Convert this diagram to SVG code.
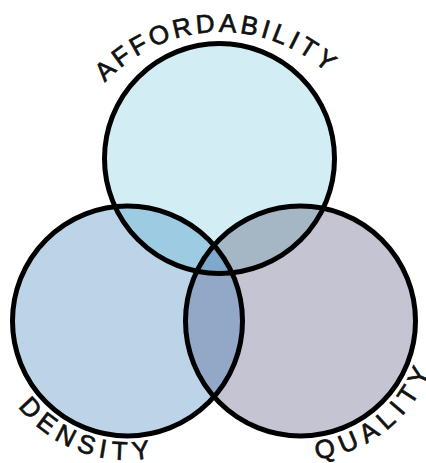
<svg xmlns="http://www.w3.org/2000/svg" xmlns:xlink="http://www.w3.org/1999/xlink" width="426" height="463" viewBox="0 0 426 463">
  <defs>
    <clipPath id="clip-top"><circle cx="219.5" cy="158.5" r="115"/></clipPath>
    <clipPath id="clip-left"><circle cx="127.5" cy="321" r="115"/></clipPath>
    <!-- label baselines -->
    <path id="arc-top" d="M 81.5 115.8 A 158 158 0 0 1 355 106.3" fill="none"/>
    <path id="arc-left" d="M 7.2 390.5 A 139 139 0 0 0 175 451.6" fill="none"/>
    <path id="arc-right" d="M 298.1 460 A 139 139 0 0 0 437 347.5" fill="none"/>
    <style>
      .label { font-family: "Liberation Sans", Arial, sans-serif; font-size: 26px; fill: #111; stroke: #111; stroke-width: 0.7; }
      .outline { fill: none; stroke: #000; stroke-width: 5; }
    </style>
  </defs>
  <rect width="426" height="463" fill="#fff"/>

  <g id="affordability">
    <circle cx="219.5" cy="158.5" r="115" fill="#d3edf4"/>
    <text class="label" letter-spacing="3.5"><textPath xlink:href="#arc-top" startOffset="50%" text-anchor="middle">AFFORDABILITY</textPath></text>
  </g>
  <g id="density">
    <circle cx="127.5" cy="321" r="115" fill="#bdd4e8"/>
    <text class="label" letter-spacing="6"><textPath xlink:href="#arc-left" startOffset="50%" text-anchor="middle">DENSITY</textPath></text>
  </g>
  <g id="quality">
    <circle cx="300.5" cy="321" r="115" fill="#c5c4d2"/>
    <text class="label" letter-spacing="6.5"><textPath xlink:href="#arc-right" startOffset="50%" text-anchor="middle">QUALITY</textPath></text>
  </g>

  <!-- shared regions -->
  <g id="overlaps">
    <circle cx="127.5" cy="321" r="115" fill="#9dcbe1" clip-path="url(#clip-top)"/>
    <circle cx="300.5" cy="321" r="115" fill="#a5b6c4" clip-path="url(#clip-top)"/>
    <circle cx="300.5" cy="321" r="115" fill="#93a7c6" clip-path="url(#clip-left)"/>
    <g clip-path="url(#clip-top)">
      <circle cx="300.5" cy="321" r="115" fill="#7fa9cc" clip-path="url(#clip-left)"/>
    </g>
  </g>

  <g id="outlines">
    <circle class="outline" cx="219.5" cy="158.5" r="115"/>
    <circle class="outline" cx="127.5" cy="321" r="115"/>
    <circle class="outline" cx="300.5" cy="321" r="115"/>
  </g>
</svg>
